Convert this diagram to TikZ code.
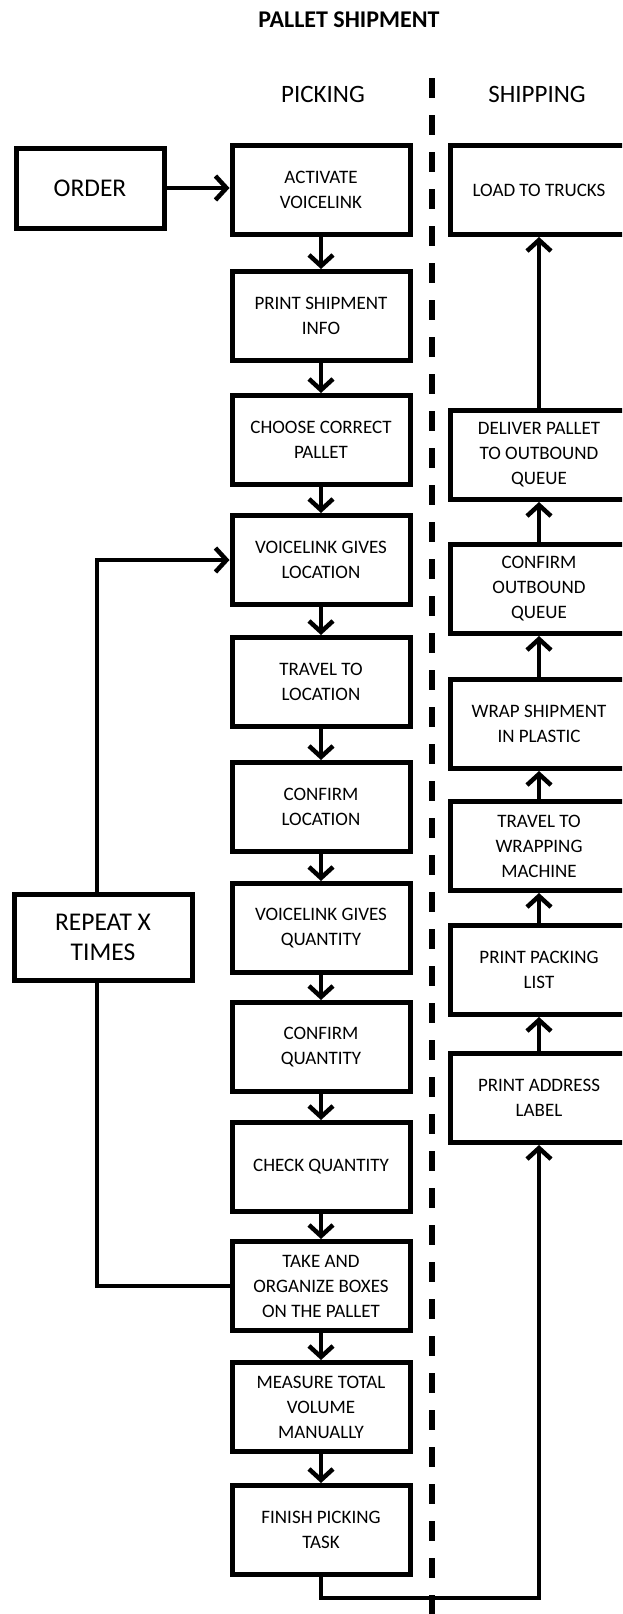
\documentclass[tikz,border=0pt]{standalone}
\usepackage{fontspec}
\setmainfont{Carlito}
\usetikzlibrary{arrows.meta}

\begin{document}
\begin{tikzpicture}[x=1pt,y=-1pt,>={Straight Barb[length=11pt,width=24pt]},
  stepbox/.style={draw,line width=5pt,minimum width=178pt,minimum height=89pt,align=center,inner sep=2pt,font=\fontsize{19}{25}\selectfont},
  bigbox/.style={stepbox,font=\fontsize{25.5}{30}\selectfont},
  flow/.style={->,line width=4.5pt}]
  \useasboundingbox (0,0) rectangle (622,1614);
  \clip (0,0) rectangle (622,1614);
  % headings
  \node[font=\bfseries\fontsize{24}{28}\selectfont] (title) at (349,20) {PALLET SHIPMENT};
  \node[font=\fontsize{25}{30}\selectfont] (pick) at (323,94) {PICKING};
  \node[font=\fontsize{25}{30}\selectfont] (ship) at (537,94) {SHIPPING};
  % divider between the two departments
  \draw[line width=5.5pt,dash pattern=on 20pt off 17pt] (432,78) -- (432,1620);
  % picking column
  \node[stepbox] (act) at (321,190) {ACTIVATE\\VOICELINK};
  \node[stepbox] (pinfo) at (321,316) {PRINT SHIPMENT\\INFO};
  \node[stepbox] (pallet) at (321,440) {CHOOSE CORRECT\\PALLET};
  \node[stepbox] (vloc) at (321,560) {VOICELINK GIVES\\LOCATION};
  \node[stepbox] (tloc) at (321,682) {TRAVEL TO\\LOCATION};
  \node[stepbox] (cloc) at (321,807) {CONFIRM\\LOCATION};
  \node[stepbox] (vqty) at (321,928) {VOICELINK GIVES\\QUANTITY};
  \node[stepbox] (cqty) at (321,1047) {CONFIRM\\QUANTITY};
  \node[stepbox] (chk) at (321,1167) {CHECK QUANTITY};
  \node[stepbox] (take) at (321,1286) {TAKE AND\\ORGANIZE BOXES\\ON THE PALLET};
  \node[stepbox] (meas) at (321,1407) {MEASURE TOTAL\\VOLUME\\MANUALLY};
  \node[stepbox] (fin) at (321,1530) {FINISH PICKING\\TASK};
  % shipping column
  \node[stepbox] (load) at (539,190) {LOAD TO TRUCKS};
  \node[stepbox] (deliv) at (539,455) {DELIVER PALLET\\TO OUTBOUND\\QUEUE};
  \node[stepbox] (cout) at (539,589) {CONFIRM\\OUTBOUND\\QUEUE};
  \node[stepbox] (wrap) at (539,724) {WRAP SHIPMENT\\IN PLASTIC};
  \node[stepbox] (twrap) at (539,846) {TRAVEL TO\\WRAPPING\\MACHINE};
  \node[stepbox] (plist) at (539,970) {PRINT PACKING\\LIST};
  \node[stepbox] (paddr) at (539,1098) {PRINT ADDRESS\\LABEL};
  % order and loop boxes
  \node[bigbox,minimum width=148pt,minimum height=80pt] (order) at (90,188) {ORDER};
  \node[bigbox,minimum height=86pt] (rep) at (103,937) {REPEAT X\\TIMES};
  % connectors
  \draw[flow] (order.east) -- (order.east -| act.west);
  \foreach \a/\b in {act/pinfo,pinfo/pallet,pallet/vloc,vloc/tloc,tloc/cloc,cloc/vqty,vqty/cqty,cqty/chk,chk/take,take/meas,meas/fin}
    \draw[flow] (\a) -- (\b);
  \foreach \a/\b in {paddr/plist,plist/twrap,twrap/wrap,wrap/cout,cout/deliv,deliv/load}
    \draw[flow] (\a) -- (\b);
  % repeat loop
  \draw[line width=4.5pt] (take.west) -| ([xshift=-6pt]rep.south);
  \draw[flow] ([xshift=-6pt]rep.north) |- (vloc.west);
  % hand over to shipping
  \coordinate (base) at (430,1598);
  \draw[flow] (fin.south) |- (base) -| (paddr.south);
\end{tikzpicture}
\end{document}
